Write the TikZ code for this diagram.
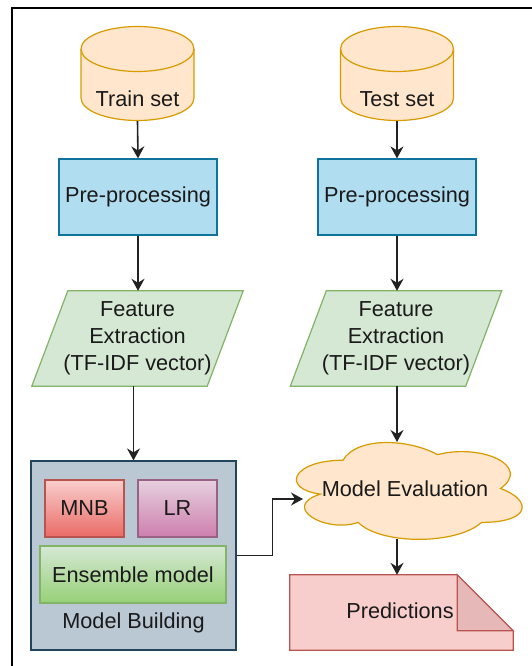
\documentclass[tikz,border=0pt]{standalone}
\usepackage{fontspec}
\setmainfont{Liberation Sans}
\usetikzlibrary{arrows.meta,backgrounds,calc}
\definecolor{dbfill}{HTML}{FFE6CC}
\definecolor{dbline}{HTML}{D79B00}
\definecolor{ppfill}{HTML}{B1DDF0}
\definecolor{ppline}{HTML}{10739E}
\definecolor{fefill}{HTML}{D5E8D4}
\definecolor{feline}{HTML}{82B366}
\definecolor{mbfill}{HTML}{BAC8D3}
\definecolor{mbline}{HTML}{23445D}
\definecolor{rtop}{HTML}{F8CECC}
\definecolor{rbot}{HTML}{EA6B66}
\definecolor{rline}{HTML}{B85450}
\definecolor{ptop}{HTML}{E6D0DE}
\definecolor{pbot}{HTML}{CD7FAE}
\definecolor{pline}{HTML}{996185}
\definecolor{gtop}{HTML}{D5E8D4}
\definecolor{gbot}{HTML}{97D077}
\definecolor{nfill}{HTML}{F8CECC}
\definecolor{nfold}{HTML}{E6B8B7}
\definecolor{txt}{HTML}{1A1A1A}
\definecolor{arrc}{HTML}{222222}
\newcommand{\drawdb}[1]{%
  \draw[dbstyle] (#1-56.5,49) -- (#1-56.5,98)
    arc[start angle=180,end angle=360,x radius=56.5pt,y radius=22.5pt]
    -- (#1+56.5,49)
    arc[start angle=0,end angle=180,x radius=56.5pt,y radius=22.5pt] -- cycle;
  \draw[dbstyle,fill=none] (#1-56.5,49)
    arc[start angle=180,end angle=360,x radius=56.5pt,y radius=22.5pt];}
\begin{document}
\begin{tikzpicture}[x=1pt,y=-1pt,
  every node/.style={font=\fontsize{21.7}{27}\selectfont,text=txt,inner sep=0pt,align=center},
  dbstyle/.style={fill=dbfill,draw=dbline,line width=1.2pt},
  ppbox/.style={rectangle,fill=ppfill,draw=ppline,line width=1.2pt,minimum width=158pt,minimum height=76pt},
  febox/.style={rectangle,minimum width=211pt,minimum height=95pt},
  fepath/.style={fill=fefill,draw=feline,line width=1.2pt},
  arr/.style={draw=arrc,line width=1.6pt,-{Stealth[length=12pt,width=13pt,inset=4pt]}},
  clsbox/.style={rectangle,line width=1.2pt,minimum width=79pt,minimum height=57pt}]
\useasboundingbox (0,0) rectangle (532,666);
\draw[line width=2pt,black] (12,666) -- (12,8) -- (532,8);

% databases
\node (train) at (137.5,99) [minimum width=113pt,minimum height=44pt] {Train set};
\node (test) at (397,99) [minimum width=113pt,minimum height=44pt] {Test set};

% preprocessing
\node[ppbox] (pre1) at (138,197) {Pre-processing};
\node[ppbox] (pre2) at (397,197) {Pre-processing};

% feature extraction
\node[febox] (fe1) at (137.5,338.5) {Feature\\Extraction\\(TF-IDF vector)};
\node[febox] (fe2) at (396,338.5) {Feature\\Extraction\\(TF-IDF vector)};

% model building
\node[rectangle,fill=mbfill,draw=mbline,line width=1.2pt,minimum width=205pt,minimum height=189pt] (mb) at (133.5,555.5) {};
\node (mblabel) at (133.5,623) {Model Building};
\node[clsbox,top color=rtop,bottom color=rbot,draw=rline] (mnb) at (84.5,508.5) {MNB};
\node[clsbox,top color=ptop,bottom color=pbot,draw=pline] (lr) at (177.5,508.5) {LR};
\node[clsbox,minimum width=186pt,top color=gtop,bottom color=gbot,draw=feline] (ens) at (133,574.5) {Ensemble model};

% evaluation cloud
\node (eval) at (405,489) {Model Evaluation};
\coordinate (evalin) at (303,499);
\coordinate (evaltop) at (397,442);
\coordinate (evalbot) at (397,539);

% predictions
\node[rectangle,minimum width=223pt,minimum height=75pt] (pred) at (401.5,612.5) {};
\node (predtext) at (400,611) {Predictions};

\begin{scope}[on background layer]
  \fill[white] (0,0) rectangle (532,666);
  \drawdb{137.5}
  \drawdb{397}
  \draw[fepath] ($(fe1.north west)+(36,0)$) -- (fe1.north east) -- ($(fe1.south east)+(-36,0)$) -- (fe1.south west) -- cycle;
  \draw[fepath] ($(fe2.north west)+(36,0)$) -- (fe2.north east) -- ($(fe2.south east)+(-36,0)$) -- (fe2.south west) -- cycle;
  % cloud (box x0=280,y0=432,w=252,h=113)
  \draw[fill=dbfill,draw=dbline,line width=1.2pt]
    (280+0.25*252,432+0.25*113)
    .. controls (280+0.05*252,432+0.25*113) and (280+0*252,432+0.5*113) .. (280+0.16*252,432+0.55*113)
    .. controls (280+0*252,432+0.66*113) and (280+0.18*252,432+0.9*113) .. (280+0.31*252,432+0.8*113)
    .. controls (280+0.4*252,432+1*113) and (280+0.7*252,432+1*113) .. (280+0.8*252,432+0.8*113)
    .. controls (280+1*252,432+0.8*113) and (280+1*252,432+0.6*113) .. (280+0.875*252,432+0.5*113)
    .. controls (280+1*252,432+0.3*113) and (280+0.8*252,432+0.1*113) .. (280+0.625*252,432+0.2*113)
    .. controls (280+0.5*252,432+0.05*113) and (280+0.3*252,432+0.05*113) .. (280+0.25*252,432+0.25*113) -- cycle;
  % note
  \draw[fill=nfill,draw=rline,line width=1.2pt]
    (pred.north west) -- ($(pred.north east)+(-56,0)$) -- ($(pred.north east)+(0,56)$) -- (pred.south east) -- (pred.south west) -- cycle;
  \draw[fill=nfold,draw=rline,line width=1.2pt]
    ($(pred.north east)+(-56,0)$) -- ($(pred.north east)+(-56,56)$) -- ($(pred.north east)+(0,56)$) -- cycle;
\end{scope}

% connectors
\draw[arr] (train.south) -- (pre1.north);
\draw[arr] (test.south) -- (pre2.north);
\draw[arr] (pre1.south) -- (pre1.south |- fe1.north);
\draw[arr] (pre2.south) -- (pre2.south |- fe2.north);
\draw[arr] (fe1.south -| mb.north) -- (mb.north);
\draw[arr] (evaltop |- fe2.south) -- (evaltop);
\draw[arr] (mb.east) -- ++(36,0) |- (evalin);
\draw[arr] (evalbot) -- (evalbot |- pred.north);
\end{tikzpicture}
\end{document}
